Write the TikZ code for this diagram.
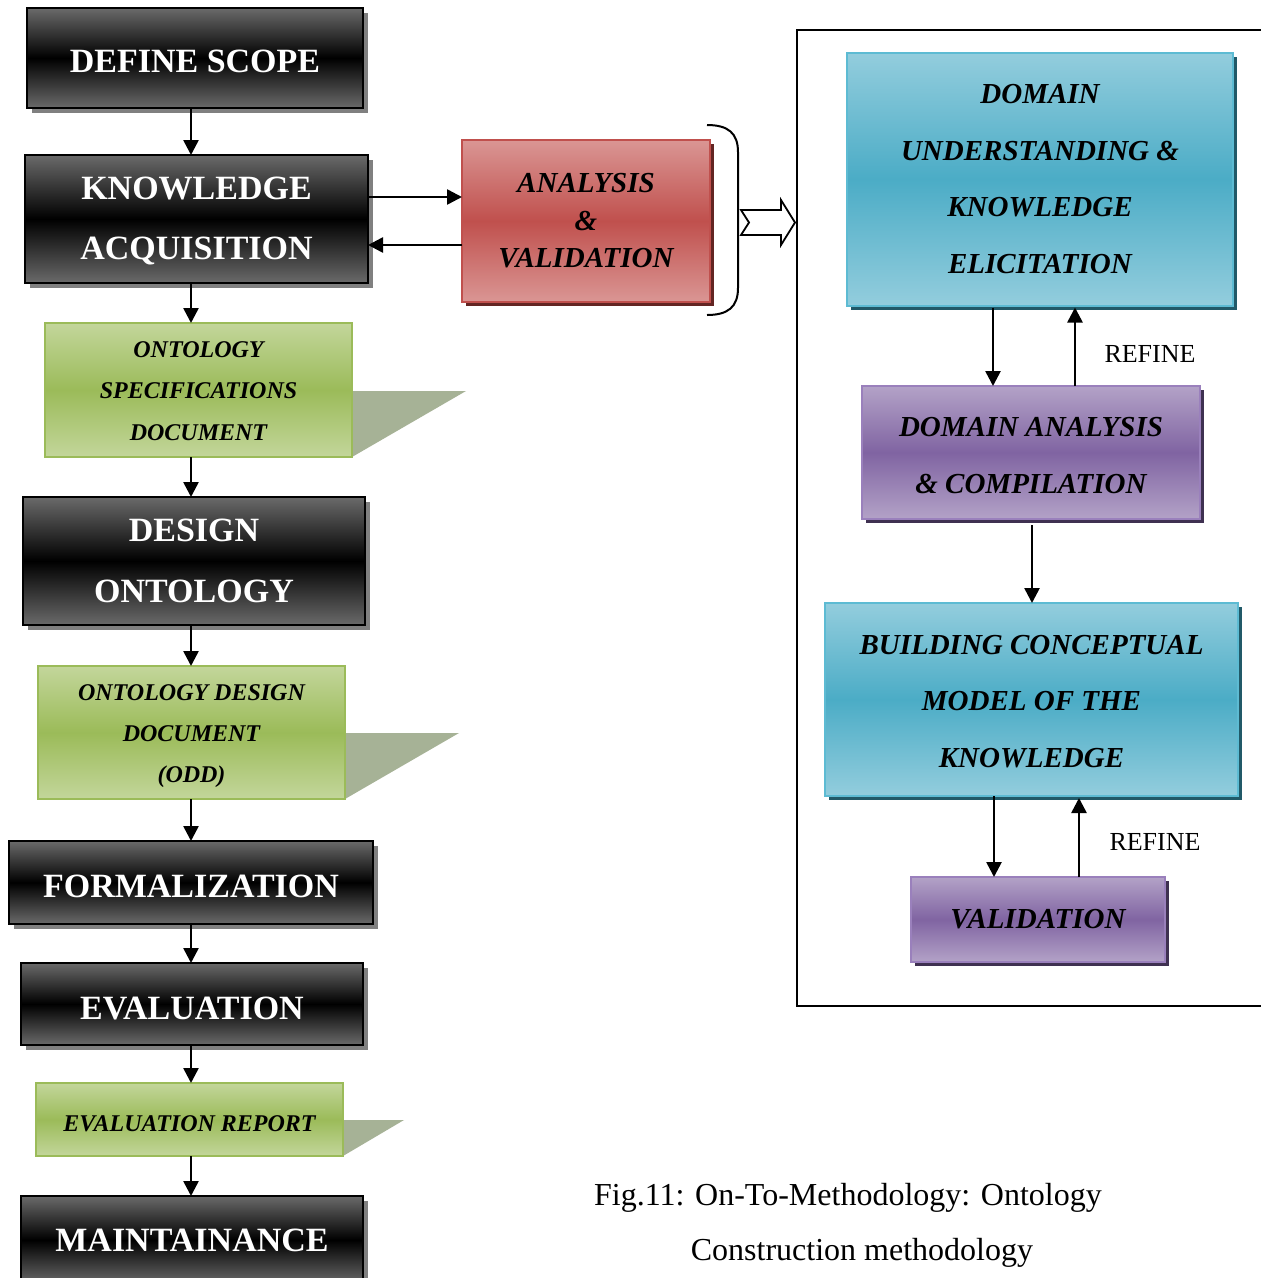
\documentclass[tikz,border=0pt]{standalone}
\usepackage{fontspec}
\setmainfont{Liberation Serif}
\usetikzlibrary{arrows.meta,shadows}

\definecolor{bkgray}{HTML}{6A6A6A}
\definecolor{bkshadow}{HTML}{808080}
\definecolor{grlight}{HTML}{C3D69B}
\definecolor{grmid}{HTML}{9BBB59}
\definecolor{grwing}{HTML}{A6B296}
\definecolor{rdlight}{HTML}{DA9694}
\definecolor{rdmid}{HTML}{C0504D}
\definecolor{rdshadow}{HTML}{632523}
\definecolor{bllight}{HTML}{93CDDD}
\definecolor{blmid}{HTML}{4BACC6}
\definecolor{bledge}{HTML}{5DBBD3}
\definecolor{blshadow}{HTML}{215968}
\definecolor{pulight}{HTML}{B3A2C7}
\definecolor{pumid}{HTML}{8064A2}
\definecolor{puedge}{HTML}{9A80BC}
\definecolor{pushadow}{HTML}{3F3151}

% invisible strut that lowers a centred text block by #1
\newcommand\txtdown[1]{\vrule width0pt height\dimexpr\fontcharht\font`H+2\dimexpr#1\relax\relax}

\tikzset{
  x=1pt, y=-1pt,
  boxbase/.style={rectangle, inner sep=0pt, outer sep=0pt, align=center, line width=2pt},
  blackbox/.style={boxbase, draw=black, top color=bkgray, bottom color=bkgray, middle color=black,
    text=white, font=\bfseries\fontsize{34}{60}\selectfont,
    drop shadow={shadow xshift=5pt, shadow yshift=-5pt, fill=bkshadow, opacity=1}},
  greenbox/.style={boxbase, draw=grmid, top color=grlight, bottom color=grlight, middle color=grmid,
    font=\bfseries\itshape\fontsize{24}{41.5}\selectfont},
  redbox/.style={boxbase, draw=rdmid, top color=rdlight, bottom color=rdlight, middle color=rdmid,
    font=\bfseries\itshape\fontsize{29}{37.5}\selectfont,
    drop shadow={shadow xshift=4pt, shadow yshift=-4pt, fill=rdshadow, opacity=1}},
  bluebox/.style={boxbase, draw=bledge, top color=bllight, bottom color=bllight, middle color=blmid,
    font=\bfseries\itshape\fontsize{29}{56.5}\selectfont,
    drop shadow={shadow xshift=4pt, shadow yshift=-4pt, fill=blshadow, opacity=1}},
  purplebox/.style={boxbase, draw=puedge, top color=pulight, bottom color=pulight, middle color=pumid,
    font=\bfseries\itshape\fontsize{29}{57}\selectfont,
    drop shadow={shadow xshift=4pt, shadow yshift=-4pt, fill=pushadow, opacity=1}},
  wing/.style={fill=grwing, draw=none},
  arr/.style={line width=2.6pt, -{Triangle[length=15pt,width=15pt]}},
  refine/.style={font=\fontsize{26}{30}\selectfont},
  caption/.style={font=\fontsize{32}{36}\selectfont}
}

\begin{document}
\begin{tikzpicture}
\useasboundingbox[fill=white] (0,0) rectangle (1261,1278);

% document wings behind the green boxes
\fill[wing] (352,391) -- (466,391) -- (352,457) -- cycle;
\fill[wing] (345,733) -- (459,733) -- (345,799) -- cycle;
\fill[wing] (343,1120) -- (404,1120) -- (343,1156) -- cycle;

% main process column
\node[blackbox, minimum width=336pt, minimum height=100pt] (ds) at (195,58) {\txtdown{4pt}DEFINE SCOPE};
\node[blackbox, minimum width=343pt, minimum height=128pt] (ka) at (196.5,219) {\txtdown{2pt}KNOWLEDGE\\ACQUISITION};
\node[greenbox, minimum width=307pt, minimum height=134pt] (osd) at (198.5,390) {\txtdown{1pt}ONTOLOGY\\SPECIFICATIONS\\DOCUMENT};
\node[blackbox, minimum width=342pt, minimum height=128pt, font=\bfseries\fontsize{34}{61}\selectfont] (do) at (194,561) {DESIGN\\ONTOLOGY};
\node[greenbox, minimum width=307pt, minimum height=133pt, font=\bfseries\itshape\fontsize{24}{41}\selectfont] (odd) at (191.5,732.5) {\txtdown{4pt}ONTOLOGY DESIGN\\DOCUMENT\\(ODD)};
\node[blackbox, minimum width=364pt, minimum height=83pt] (fo) at (191,882.5) {\txtdown{4pt}FORMALIZATION};
\node[blackbox, minimum width=342pt, minimum height=82pt] (ev) at (192,1004) {\txtdown{5pt}EVALUATION};
\node[greenbox, minimum width=307pt, minimum height=73pt] (er) at (189.5,1119.5) {\txtdown{4pt}EVALUATION REPORT};
\node[blackbox, minimum width=342pt, minimum height=88pt] (mt) at (192,1240) {MAINTAINANCE};

% analysis step beside knowledge acquisition
\node[redbox, minimum width=248pt, minimum height=162pt] (av) at (586,221) {ANALYSIS\\\&\\VALIDATION};

% refinement loop
\node[bluebox, minimum width=386pt, minimum height=253pt] (du) at (1040,179) {DOMAIN\\UNDERSTANDING \&\\KNOWLEDGE\\ELICITATION};
\node[purplebox, minimum width=338pt, minimum height=133pt] (da) at (1031,452.5) {\txtdown{3pt}DOMAIN ANALYSIS\\\& COMPILATION};
\node[bluebox, minimum width=413pt, minimum height=193pt] (bc) at (1031.5,699.5) {\txtdown{2pt}BUILDING CONCEPTUAL\\MODEL OF THE\\KNOWLEDGE};
\node[purplebox, minimum width=254pt, minimum height=85pt, font=\bfseries\itshape\fontsize{29}{34}\selectfont] (va) at (1038,919.5) {VALIDATION};

% column arrows
\coordinate (lx) at (191,0);
\draw[arr] (ds.south -| lx) -- (ka.north -| lx);
\draw[arr] (ka.south -| lx) -- (osd.north -| lx);
\draw[arr] (osd.south -| lx) -- (do.north -| lx);
\draw[arr] (do.south -| lx) -- (odd.north -| lx);
\draw[arr] (odd.south -| lx) -- (fo.north -| lx);
\draw[arr] (fo.south -| lx) -- (ev.north -| lx);
\draw[arr] (ev.south -| lx) -- (er.north -| lx);
\draw[arr] (er.south -| lx) -- (mt.north -| lx);

% exchange with analysis
\coordinate (k1) at (0,197);
\coordinate (k2) at (0,245);
\draw[arr] (ka.east |- k1) -- (av.west |- k1);
\draw[arr] (av.west |- k2) -- (ka.east |- k2);

% grouping bracket and hollow arrow
\draw[line width=2pt] (707,125) .. controls (728,125) and (738,133) .. (738,152)
  -- (738,288) .. controls (738,307) and (728,315) .. (707,315);
\draw[line width=1.8pt, fill=white, line join=miter]
  (741,210) -- (781,210) -- (781,200) -- (795,222.5) -- (781,245) -- (781,235)
  -- (741,235) -- (749,222.5) -- cycle;

% frame of the refinement loop
\draw[line width=1.6pt] (1263,30) -- (797,30) -- (797,1006) -- (1263,1006);

% loop arrows
\coordinate (r1) at (993,0);
\coordinate (r2) at (1075,0);
\coordinate (r3) at (1032,0);
\coordinate (r4) at (994,0);
\coordinate (r5) at (1079,0);
\draw[arr] ([yshift=-2pt]du.south -| r1) -- (da.north -| r1);
\draw[arr] (da.north -| r2) -- ([yshift=-2pt]du.south -| r2);
\draw[arr] ([yshift=-6pt]da.south -| r3) -- (bc.north -| r3);
\draw[arr] (bc.south -| r4) -- (va.north -| r4);
\draw[arr] (va.north -| r5) -- ([yshift=-2pt]bc.south -| r5);
\node[refine] (rf1) at (1150,354) {REFINE};
\node[refine] (rf2) at (1155,842) {REFINE};

% caption
\node[caption] (cap1) at (848,1198) {Fig.11: On-To-Methodology: Ontology};
\node[caption] (cap2) at (862,1253) {Construction methodology};
\end{tikzpicture}
\end{document}
